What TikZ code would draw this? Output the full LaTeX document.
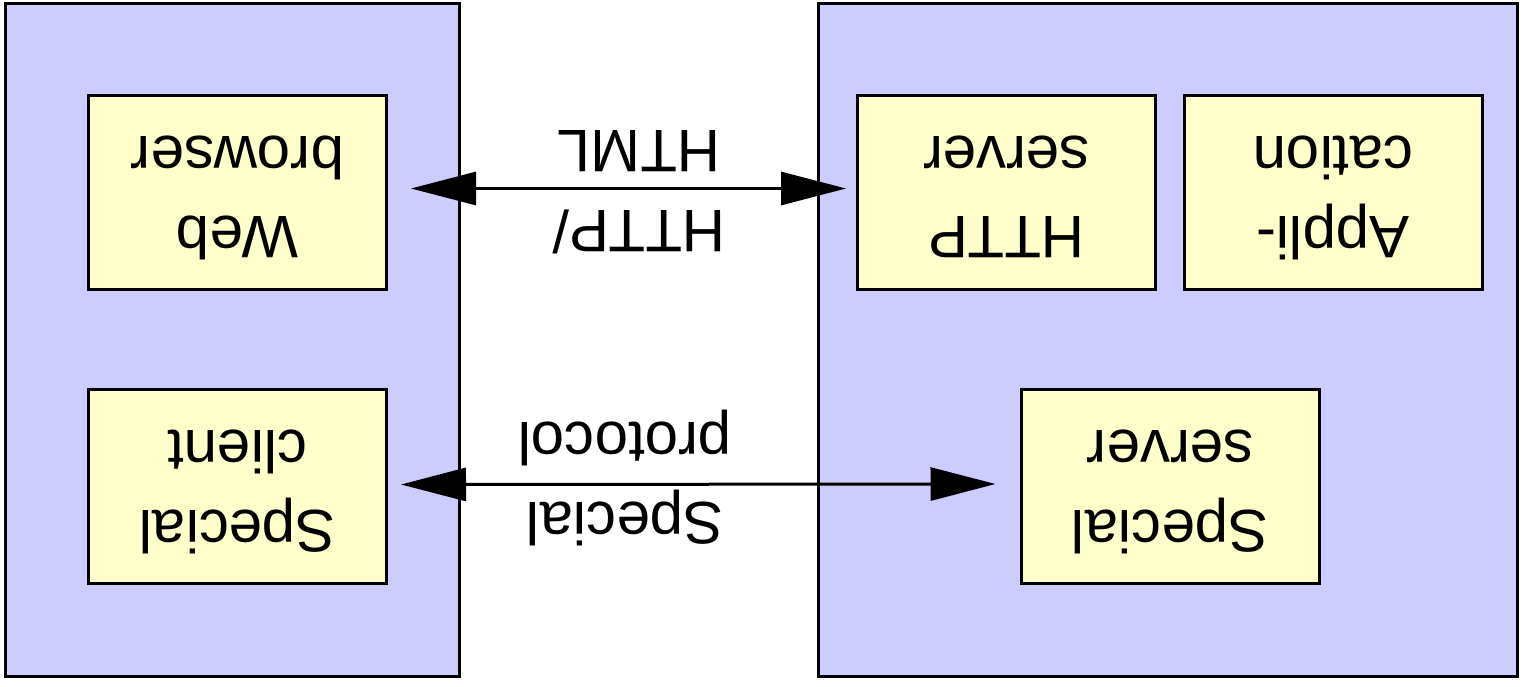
\documentclass[tikz,border=0pt]{standalone}
\usepackage{fontspec}
\setmainfont{Liberation Sans}
\usetikzlibrary{arrows.meta}
\definecolor{hostblue}{RGB}{204,204,255}
\definecolor{progyellow}{RGB}{255,255,204}
\newcommand{\flipped}[1]{\rotatebox{180}{\begin{tabular}{@{}c@{}}#1\end{tabular}}}
\tikzset{
  host/.style={draw, line width=3pt, fill=hostblue, minimum height=673pt, inner sep=0pt},
  prog/.style={draw, line width=3pt, fill=progyellow, minimum width=298pt, minimum height=194pt, inner sep=0pt},
  link/.style={line width=3pt, {Triangle[length=65pt,width=33pt]}-{Triangle[length=65pt,width=33pt]}}
}
\begin{document}
\begin{tikzpicture}[x=1pt, y=-1pt, font=\fontsize{60}{80}\selectfont]
\useasboundingbox (0,0) rectangle (1526,686);

% client and server hosts
\node[host, minimum width=454pt] (client) at (232,339.5) {};
\node[host, minimum width=699pt] (server) at (1167.5,339.5) {};

\node[prog] (browser) at (237.5,192.5) {\flipped{Web\\browser}};
\node[prog] (sclient) at (237.5,486.5) {\flipped{Special\\client}};
\node[prog] (httpd) at (1006.5,192.5) {\flipped{HTTP\\server}};
\node[prog] (app) at (1333,192.5) {\flipped{Appli-\\cation}};
\node[prog] (sserver) at (1170,486) {\flipped{Special\\server}};

% connections
\draw[link] ([xshift=23pt,yshift=4pt]browser.east) -- ([xshift=-10pt,yshift=4pt]httpd.west);
\draw[link] ([xshift=13pt,yshift=2pt]sclient.east) -- ([xshift=-24pt,yshift=2pt]sserver.west);

\node (httplabel) at (639,186) {\flipped{HTTP/\\HTML}};
\node (protolabel) at (625,478) {\flipped{Special\\protocol}};
\end{tikzpicture}
\end{document}
